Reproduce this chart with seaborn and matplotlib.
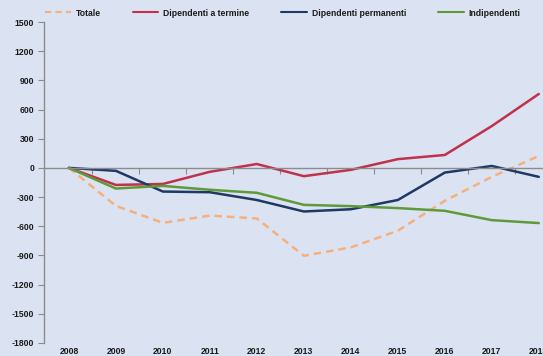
import numpy as np
import pandas as pd
import seaborn as sns
import matplotlib
matplotlib.use("Agg")
import matplotlib.pyplot as plt
from matplotlib import font_manager

years = list(range(2008, 2019))
totale = [0, -390, -565, -490, -520, -903, -817, -646, -338, -92, 123]
dip_termine = [0, -175, -165, -40, 40, -85, -20, 90, 133, 430, 760]
dip_permanenti = [0, -30, -243, -250, -330, -448, -425, -330, -48, 20, -92]
indipendenti = [0, -212, -185, -225, -256, -380, -393, -413, -441, -537, -567]

series_names = ["Totale", "Dipendenti a termine", "Dipendenti permanenti", "Indipendenti"]
series_values = [totale, dip_termine, dip_permanenti, indipendenti]
yticks = [1500, 1200, 900, 600, 300, 0, -300, -600, -900, -1200, -1500, -1800]

df = pd.DataFrame({
    "anno": np.tile(years, len(series_names)),
    "valore": np.concatenate(series_values),
    "serie": np.repeat(series_names, len(years)),
})

bg = "#dbe3f2"
sns.set_theme(style="white")
names = {f.name for f in font_manager.fontManager.ttflist}
if "Liberation Sans Narrow" in names:
    plt.rcParams["font.family"] = ["Liberation Sans Narrow", "DejaVu Sans"]
    fs = 7.2
else:
    plt.rcParams["font.family"] = ["Liberation Sans", "DejaVu Sans"]
    fs = 6.2
plt.rcParams["font.weight"] = "bold"

fig = plt.figure(figsize=(5.43, 3.56), dpi=100, facecolor=bg)
ax = fig.add_axes([44/543, 1-343/356, 1-44/543, (343-22)/356])
ax.set_facecolor(bg)

palette = {"Totale": "#f5b07e", "Dipendenti a termine": "#c0314a",
           "Dipendenti permanenti": "#1f3864", "Indipendenti": "#5e9a3a"}
dashes = {"Totale": (3, 2), "Dipendenti a termine": "",
          "Dipendenti permanenti": "", "Indipendenti": ""}
sns.lineplot(data=df, x="anno", y="valore", hue="serie", style="serie",
             palette=palette, dashes=dashes, linewidth=1.8, ax=ax,
             hue_order=series_names, style_order=series_names)

ax.set_xlim(years[0] - 0.53, years[-1] + 0.09)
ax.set_ylim(-1800, 1500)
ax.set_xlabel("")
ax.set_ylabel("")

ax.set_yticks(yticks)
ax.set_yticklabels([str(v) for v in yticks])
ax.tick_params(axis="y", direction="out", length=4, width=0.8, color="#8c8c8c",
               labelsize=fs, pad=3, left=True, labelcolor="#1a1a1a")

mids = [y + 0.5 for y in years[:-1]]
ax.set_xticks(mids)
ax.set_xticklabels([])
ax.set_xticks(years, [str(y) for y in years], minor=True)
ax.tick_params(axis="x", which="major", top=True, bottom=False, labelbottom=False,
               direction="in", length=4, width=0.8, color="#8c8c8c")
ax.tick_params(axis="x", which="minor", top=False, bottom=True, length=0,
               labelbottom=True, labelsize=fs, pad=3, labelcolor="#1a1a1a")

for s in ["right", "bottom"]:
    ax.spines[s].set_visible(False)
ax.spines["top"].set_position(("data", 0))
ax.spines["top"].set_color("#8c8c8c")
ax.spines["top"].set_linewidth(1.0)
ax.spines["left"].set_color("#8c8c8c")
ax.spines["left"].set_linewidth(1.0)

handles, labels = ax.get_legend_handles_labels()
for h in handles:
    h.set_linewidth(1.5)
leg = ax.legend(handles, labels, loc="center left", bbox_to_anchor=(45/543, 1-13/356),
                bbox_transform=fig.transFigure, ncol=4, frameon=False,
                fontsize=fs, handlelength=3.0, handletextpad=0.55, columnspacing=3.7,
                borderaxespad=0, borderpad=0)
for t in leg.get_texts():
    t.set_color("#1a1a1a")

fig.savefig("out.png", dpi=100, facecolor=bg)
